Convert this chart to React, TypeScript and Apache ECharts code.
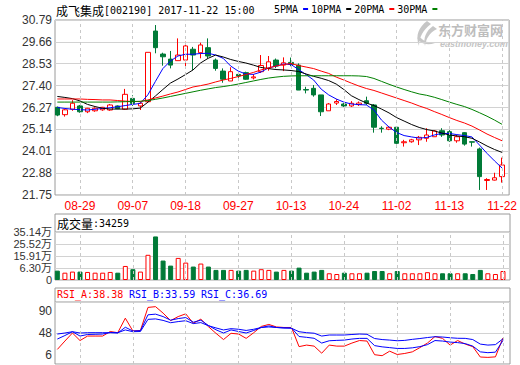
import React, { useEffect, useRef } from 'react';
import * as echarts from 'echarts';

const dates = [
  '08-24', '08-25', '08-28', '08-29', '08-30', '08-31', '09-01', '09-04', '09-05', '09-06',
  '09-07', '09-08', '09-11', '09-12', '09-13', '09-14', '09-15', '09-18', '09-19', '09-20',
  '09-21', '09-22', '09-25', '09-26', '09-27', '09-28', '09-29', '10-09', '10-10', '10-11',
  '10-12', '10-13', '10-16', '10-17', '10-18', '10-19', '10-20', '10-23', '10-24', '10-25',
  '10-26', '10-27', '10-30', '10-31', '11-01', '11-02', '11-03', '11-06', '11-07', '11-08',
  '11-09', '11-10', '11-13', '11-14', '11-15', '11-16', '11-17', '11-20', '11-21', '11-22',
];
const labelDates = ['08-29', '09-07', '09-18', '09-27', '10-13', '10-24', '11-02', '11-13', '11-22'];

const opens = [
  26.28, 25.90, 26.18, 26.35, 26.05, 26.10, 26.15, 26.14, 26.35, 26.18,
  26.74, 26.35, 26.57, 30.22, 29.03, 28.77, 28.69, 28.72, 29.28, 29.10,
  29.36, 28.72, 28.15, 27.64, 27.98, 28.07, 27.80, 28.12, 28.30, 28.72,
  28.46, 28.60, 28.46, 27.20, 27.26, 26.92, 26.10, 26.50, 26.45, 26.35,
  26.42, 26.62, 26.40, 25.20, 25.15, 25.25, 24.45, 24.50, 24.60, 24.68,
  24.76, 25.07, 25.02, 24.55, 24.97, 24.50, 24.13, 22.50, 22.52, 22.70,
];
const closes = [
  25.88, 26.15, 26.49, 26.05, 26.23, 26.23, 26.28, 26.40, 26.21, 26.95,
  26.48, 26.49, 29.12, 29.36, 28.89, 28.46, 28.98, 29.45, 28.98, 29.50,
  28.93, 28.29, 27.73, 28.12, 27.90, 27.73, 27.85, 28.44, 28.63, 28.41,
  28.58, 28.50, 27.17, 27.17, 26.92, 26.05, 26.45, 26.58, 26.35, 26.49,
  26.50, 26.49, 25.25, 25.18, 25.25, 24.42, 24.50, 24.60, 24.73, 24.85,
  25.06, 24.85, 24.55, 24.76, 24.38, 24.48, 22.70, 22.55, 22.64, 23.30,
];
const lows = [
  25.82, 25.80, 26.10, 26.00, 25.98, 26.05, 26.10, 26.10, 26.18, 26.15,
  26.35, 26.14, 26.50, 29.07, 28.43, 28.29, 28.69, 28.26, 28.20, 28.81,
  28.81, 28.17, 27.55, 27.64, 27.80, 27.70, 27.72, 28.05, 28.17, 28.30,
  28.15, 28.40, 27.17, 27.00, 26.83, 25.83, 26.10, 26.40, 26.30, 26.30,
  26.35, 26.40, 24.97, 24.97, 25.10, 24.21, 24.25, 24.45, 24.33, 24.50,
  24.76, 24.75, 24.50, 24.45, 24.30, 24.25, 22.01, 22.01, 22.50, 22.39,
];
const highs = [
  26.32, 26.20, 26.65, 26.40, 26.25, 26.28, 26.30, 26.45, 26.38, 27.23,
  26.90, 26.55, 29.12, 30.53, 29.10, 29.19, 29.84, 29.67, 29.40, 29.62,
  29.84, 28.80, 28.29, 28.35, 28.05, 28.12, 28.00, 28.98, 28.93, 28.80,
  28.86, 28.85, 28.55, 27.34, 27.43, 26.92, 26.50, 26.70, 26.50, 26.60,
  26.58, 26.83, 26.45, 25.30, 25.30, 25.30, 24.60, 24.65, 24.80, 25.20,
  25.10, 25.20, 25.10, 24.85, 25.00, 24.50, 24.20, 22.62, 22.90, 23.68,
];

const ma5 = [
  26.27, 26.22, 26.18, 26.16, 26.14, 26.18, 26.22, 26.26, 26.31, 26.37,
  26.43, 26.48, 26.92, 27.61, 28.28, 28.67, 28.93, 29.02, 29.02, 29.06,
  29.07, 28.98, 28.81, 28.41, 28.15, 28.00, 27.98, 28.10, 28.31, 28.41,
  28.52, 28.49, 28.23, 27.97, 27.69, 27.22, 26.92, 26.71, 26.55, 26.45,
  26.42, 26.40, 26.14, 25.62, 25.26, 24.98, 24.82, 24.75, 24.69, 24.72,
  24.85, 24.93, 24.93, 24.87, 24.82, 24.75, 24.33, 23.90, 23.51, 23.14,
];
const ma10 = [
  26.84, 26.79, 26.73, 26.61, 26.43, 26.32, 26.23, 26.19, 26.19, 26.19,
  26.20, 26.24, 26.54, 26.86, 27.20, 27.53, 27.74, 27.97, 28.21, 28.57,
  28.81, 28.98, 28.88, 28.75, 28.65, 28.57, 28.46, 28.34, 28.28, 28.23,
  28.21, 28.18, 28.13, 28.00, 27.88, 27.78, 27.66, 27.48, 27.20, 26.88,
  26.68, 26.50, 26.37, 26.19, 25.99, 25.75, 25.57, 25.39, 25.24, 25.13,
  25.06, 24.95, 24.85, 24.80, 24.76, 24.68, 24.49, 24.28, 24.10, 23.95,
];
const ma20 = [
  26.71, 26.71, 26.71, 26.71, 26.69, 26.68, 26.66, 26.66, 26.63, 26.60,
  26.58, 26.58, 26.66, 26.76, 26.86, 26.97, 27.07, 27.20, 27.33, 27.40,
  27.48, 27.59, 27.69, 27.77, 27.87, 27.97, 28.08, 28.21, 28.31, 28.41,
  28.49, 28.54, 28.44, 28.36, 28.28, 28.15, 28.03, 27.84, 27.69, 27.53,
  27.38, 27.25, 27.15, 27.02, 26.89, 26.76, 26.63, 26.50, 26.35, 26.22,
  26.06, 25.91, 25.75, 25.60, 25.47, 25.31, 25.11, 24.90, 24.72, 24.55,
];
const ma30 = [
  26.55, 26.55, 26.55, 26.55, 26.55, 26.55, 26.55, 26.55, 26.56, 26.57,
  26.58, 26.59, 26.63, 26.69, 26.76, 26.84, 26.92, 27.00, 27.08, 27.16,
  27.23, 27.30, 27.35, 27.41, 27.48, 27.56, 27.64, 27.72, 27.79, 27.84,
  27.88, 27.90, 27.91, 27.91, 27.91, 27.91, 27.91, 27.91, 27.91, 27.91,
  27.90, 27.87, 27.77, 27.62, 27.47, 27.33, 27.20, 27.08, 26.97, 26.90,
  26.80, 26.68, 26.55, 26.43, 26.32, 26.17, 26.00, 25.82, 25.62, 25.40,
];

const volumes = [
  7.8, 6.1, 7.0, 7.0, 6.7, 6.1, 6.1, 6.7, 6.1, 11.7,
  9.0, 7.0, 21.0, 36.3, 16.2, 12.0, 18.4, 14.5, 11.2, 13.7,
  11.2, 8.4, 8.4, 8.4, 7.8, 8.4, 7.8, 9.0, 8.4, 7.0,
  8.4, 7.8, 10.3, 6.1, 7.0, 8.4, 5.6, 5.0, 6.1, 5.6,
  5.6, 6.1, 7.5, 7.5, 5.6, 7.5, 5.6, 5.6, 5.6, 6.5,
  5.6, 5.6, 5.6, 5.6, 5.6, 5.0, 8.4, 5.6, 5.0, 7.5,
];
const volumeTickLabels = ['0', '6.30万', '15.91万', '25.52万', '35.14万'];
const volumeHeader = '成交量:34259';

const rsiA = [
  16.2, 32.4, 48.0, 33.4, 42.1, 42.1, 42.1, 50.9, 48.6, 76.7,
  51.9, 52.9, 97.5, 99.0, 86.5, 72.0, 79.8, 85.1, 66.9, 74.8,
  60.3, 47.4, 35.3, 47.4, 46.0, 37.6, 48.6, 60.7, 64.6, 59.7,
  58.7, 58.7, 21.6, 24.6, 22.6, 8.9, 24.6, 22.6, 22.6, 28.5,
  33.4, 32.4, 6.0, 4.1, 12.8, 6.4, 8.4, 11.5, 19.7, 28.5,
  41.2, 37.6, 24.6, 33.4, 26.5, 21.6, 1.5, 0.8, 1.8, 38.38,
];
const rsiB = [
  36.3, 43.1, 50.5, 42.1, 45.1, 45.5, 46.0, 49.0, 48.0, 59.1,
  51.9, 52.5, 83.2, 84.5, 79.8, 72.8, 75.9, 77.9, 68.9, 72.8,
  62.6, 54.2, 48.0, 53.9, 50.9, 48.0, 52.9, 58.7, 61.7, 58.7,
  57.8, 57.8, 41.2, 39.6, 37.8, 28.5, 33.0, 33.7, 34.3, 36.3,
  37.6, 37.6, 23.6, 21.2, 19.7, 18.1, 18.1, 19.3, 21.6, 25.5,
  33.4, 32.4, 30.4, 29.4, 27.5, 22.6, 11.5, 9.9, 10.9, 33.59,
];
const rsiC = [
  46.0, 48.0, 50.5, 48.0, 48.6, 48.6, 48.6, 48.6, 48.6, 53.9,
  50.5, 50.9, 74.4, 75.3, 72.4, 67.9, 70.1, 71.8, 66.2, 68.1,
  62.1, 57.8, 53.9, 56.4, 55.2, 52.9, 55.2, 58.7, 59.7, 58.7,
  57.8, 57.2, 50.5, 48.6, 47.6, 42.1, 44.1, 44.1, 44.1, 45.1,
  46.0, 45.5, 37.3, 35.3, 34.3, 33.0, 33.7, 35.7, 37.3, 39.2,
  40.8, 40.2, 38.8, 37.8, 37.6, 35.3, 26.5, 24.6, 25.5, 36.69,
];
const rsiTickLabels = [6, 48, 90];

const titleName = '成飞集成';
const titleInfo = '[002190] 2017-11-22 15:00';

const RED = '#ff0000';
const GREEN = '#007a37';
const BLUE = '#0000ff';
const FRAME = '#9a9a9a';
const GRIDC = '#d2d2d2';
const X_MIN = -0.31;
const X_MAX = 59.93;
const MONO = '"DejaVu Sans Mono", "Liberation Mono", monospace';
const SANS = '"Liberation Sans", Arial, "Noto Sans CJK SC", sans-serif';
const CJK = '"Noto Sans CJK SC", sans-serif';

function buildOption() {
  const labelIdx = labelDates.map((d) => dates.indexOf(d));
  const markLine = {
    silent: true,
    symbol: ['none', 'none'],
    label: { show: false },
    lineStyle: { color: '#c8c8c8', type: [3, 3], width: 1 },
    data: labelIdx.map((i) => ({ xAxis: i })),
  };
  const xAxis = (gridIndex: number, showLabel: boolean) => ({
    type: 'value',
    gridIndex,
    min: X_MIN,
    max: X_MAX,
    axisLine: { show: false },
    axisTick: { show: false },
    splitLine: { show: false },
    axisLabel: showLabel
      ? {
          show: true,
          customValues: labelIdx,
          formatter: (v: number) => dates[Math.round(v)],
          color: RED,
          fontSize: 12,
          fontFamily: SANS,
          margin: 5,
        }
      : { show: false },
  });
  const yLabel = { color: '#333', fontSize: 12, fontFamily: SANS, margin: 3 };
  const up = (i: number) => closes[i] >= opens[i];
  const line = (name: string, data: number[], color: string, xi: number, extra: any = {}) => ({
    type: 'line',
    name,
    xAxisIndex: xi,
    yAxisIndex: xi,
    data: data.map((v, i) => [i, v]),
    symbol: 'none',
    color,
    lineStyle: { width: 1, color },
    itemStyle: { color },
    ...extra,
  });

  return {
    animation: false,
    backgroundColor: '#ffffff',
    legend: {
      left: 274,
      top: 4,
      padding: 0,
      itemGap: 3,
      itemWidth: 5,
      itemHeight: 2,
      icon: 'rect',
      align: 'right',
      selectedMode: false,
      textStyle: { fontFamily: MONO, fontSize: 10, color: '#000' },
      data: ['5PMA', '10PMA', '20PMA', '30PMA'],
    },
    grid: [
      { left: 55, top: 20, width: 455, height: 175, show: true, borderColor: FRAME, borderWidth: 1 },
      { left: 55, top: 232, width: 455, height: 48, show: true, borderColor: FRAME, borderWidth: 1 },
      { left: 55, top: 302, width: 455, height: 62, show: true, borderColor: FRAME, borderWidth: 1 },
    ],
    xAxis: [xAxis(0, true), xAxis(1, false), xAxis(2, false)],
    yAxis: [
      {
        type: 'value', gridIndex: 0, min: 21.75, max: 30.79, interval: 1.13,
        axisLine: { show: false }, axisTick: { show: false },
        splitLine: { lineStyle: { color: GRIDC, width: 1 } },
        axisLabel: { ...yLabel, formatter: (v: number) => v.toFixed(2) },
      },
      {
        type: 'value', gridIndex: 1, min: 0, max: 40, interval: 10,
        axisLine: { show: false }, axisTick: { show: false },
        splitLine: { lineStyle: { color: GRIDC, width: 1 } },
        axisLabel: {
          ...yLabel,
          fontSize: 11,
          lineHeight: 11,
          formatter: (v: number) => volumeTickLabels[Math.round(v / 10)],
        },
      },
      {
        type: 'value', gridIndex: 2, min: -12, max: 108, interval: 60,
        axisLine: { show: false }, axisTick: { show: false },
        splitLine: { lineStyle: { color: GRIDC, width: 1 } },
        axisLabel: { ...yLabel, customValues: rsiTickLabels, formatter: (v: number) => String(v) },
      },
    ],
    series: [
      {
        type: 'candlestick',
        xAxisIndex: 0,
        yAxisIndex: 0,
        barWidth: 5,
        data: dates.map((_, i) => [i, opens[i], closes[i], lows[i], highs[i]]),
        itemStyle: { color: '#ffffff', color0: GREEN, borderColor: RED, borderColor0: GREEN, borderWidth: 1 },
      },
      line('5PMA', ma5, BLUE, 0, { markLine }),
      line('10PMA', ma10, '#000000', 0),
      line('20PMA', ma20, RED, 0),
      line('30PMA', ma30, '#008000', 0),
      {
        type: 'bar',
        xAxisIndex: 1,
        yAxisIndex: 1,
        barWidth: 5,
        data: volumes.map((v, i) => ({
          value: [i, v],
          itemStyle: up(i)
            ? { color: '#ffffff', borderColor: RED, borderWidth: 1 }
            : { color: GREEN, borderColor: GREEN, borderWidth: 1 },
        })),
        markLine,
      },
      line('RSI_A', rsiA, RED, 2, { markLine }),
      line('RSI_B', rsiB, BLUE, 2),
      line('RSI_C', rsiC, BLUE, 2),
    ],
    graphic: [
      { type: 'rect', shape: { x: 55, y: 214, width: 455, height: 18 }, style: { fill: '#fff', stroke: FRAME, lineWidth: 1 } },
      { type: 'rect', shape: { x: 55, y: 288, width: 455, height: 14 }, style: { fill: '#fff', stroke: FRAME, lineWidth: 1 } },
      { type: 'text', x: 56, y: 10, style: { text: titleName, font: `12px ${CJK}`, fill: '#000', verticalAlign: 'middle' } },
      { type: 'text', x: 104, y: 10, style: { text: titleInfo, font: `10px ${MONO}`, fill: '#000', verticalAlign: 'middle' } },
      { type: 'text', x: 57, y: 223, style: { text: volumeHeader.slice(0, 3), font: `12px ${CJK}`, fill: '#000', verticalAlign: 'middle' } },
      { type: 'text', x: 93, y: 223, style: { text: volumeHeader.slice(3), font: `10px ${MONO}`, fill: '#000', verticalAlign: 'middle' } },
      { type: 'text', x: 57, y: 294.5, style: { text: `RSI_A:${rsiA[rsiA.length - 1].toFixed(2)}`, font: `10px ${MONO}`, fill: RED, verticalAlign: 'middle' } },
      { type: 'text', x: 129, y: 294.5, style: { text: `RSI_B:${rsiB[rsiB.length - 1].toFixed(2)}`, font: `10px ${MONO}`, fill: BLUE, verticalAlign: 'middle' } },
      { type: 'text', x: 201, y: 294.5, style: { text: `RSI_C:${rsiC[rsiC.length - 1].toFixed(2)}`, font: `10px ${MONO}`, fill: BLUE, verticalAlign: 'middle' } },
      { type: 'text', x: 438, y: 29, style: { text: '东方财富网', font: `bold 13px ${CJK}`, lineHeight: 13, fill: '#bdbdbd', verticalAlign: 'middle' } },
      { type: 'text', x: 440, y: 44, style: { text: 'eastmoney.com', font: `italic bold 9px ${SANS}`, lineHeight: 9, fill: '#c4c4c4', verticalAlign: 'middle' } },
      { type: 'emlogo', x: 413, y: 21, scaleX: 1, scaleY: 1, style: { fill: '#c6c6c6' } },
    ],
  };
}

let registered = false;
function registerLogo() {
  if (registered) return;
  registered = true;
  const d = 'M14 0 C6 6 2 14 6 25 C6 16 10 9 18 3 Z M20 5 C13 10 10 17 12 25 C13 18 16 12 24 8 Z M4 17 C7 22 13 25 22 22 C15 22 10 20 6 15 Z';
  echarts.graphic.registerShape('emlogo', echarts.graphic.extendPath(d, {}));
}

export default function App() {
  const ref = useRef<HTMLDivElement>(null);
  useEffect(() => {
    if (!ref.current) return;
    registerLogo();
    const chart = echarts.init(ref.current, null, { renderer: 'svg' });
    chart.setOption(buildOption() as any);
    return () => chart.dispose();
  }, []);
  return (
    <div
      ref={ref}
      style={{ position: 'fixed', left: 0, top: 0, width: 520, height: 365, background: '#fff' }}
    />
  );
}
